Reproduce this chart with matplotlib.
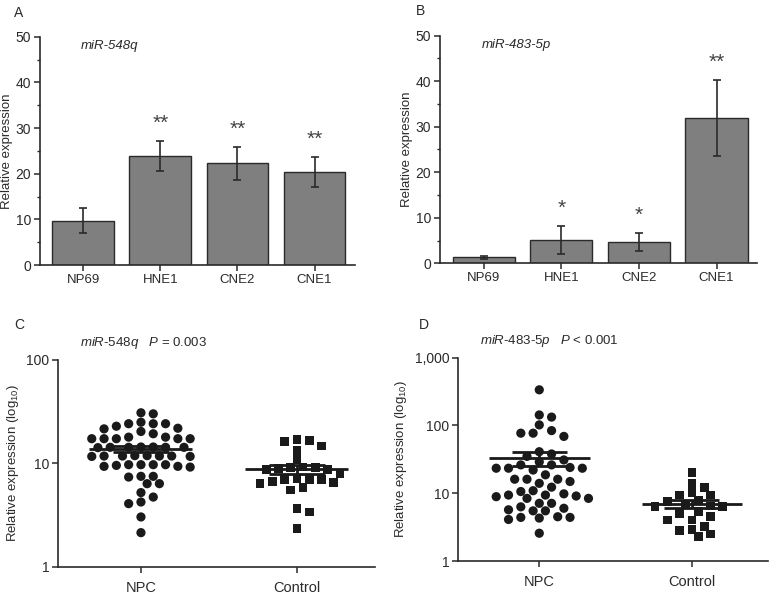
import matplotlib
matplotlib.use('Agg')
import matplotlib.pyplot as plt
import numpy as np

plt.rcParams['font.family'] = 'Liberation Sans'
plt.rcParams['mathtext.fontset'] = 'custom'
plt.rcParams['mathtext.rm'] = 'Liberation Sans'
plt.rcParams['mathtext.it'] = 'Liberation Sans:italic'
plt.rcParams['mathtext.default'] = 'regular'

INK = '#2a2a2a'

# panel A / B: cell lines
cell_lines = ['NP69', 'HNE1', 'CNE2', 'CNE1']
a_mean = [9.7, 23.9, 22.3, 20.4]
a_err = [2.7, 3.2, 3.6, 3.35]
a_sig = ['', '**', '**', '**']
b_mean = [1.3, 5.1, 4.6, 31.9]
b_err = [0.3, 3.1, 2.0, 8.4]
b_sig = ['', '*', '*', '**']

# panel C / D: tissue samples
groups = ['NPC', 'Control']
c_npc = [30.6, 29.9,
         24.8, 24.0, 24.0, 24.0,
         22.7, 21.7, 21.4, 20.2, 19.2,
         17.8, 17.8, 17.2, 17.2, 17.2, 17.2, 17.2,
         14.3, 14.2, 14.2, 14.1, 14.2, 14.2, 14.3,
         11.8, 11.7, 11.7, 11.6, 11.7, 11.7, 11.8, 11.6,
         9.65, 9.65, 9.65, 9.65, 9.5, 9.3, 9.3, 9.15,
         7.45, 7.45, 7.33, 6.33, 6.33,
         5.19, 4.7, 4.21, 4.06, 3.02, 2.13]
c_ctrl = [16.9, 16.5, 16.2, 14.6, 13.3, 10.8,
          9.15, 9.0, 8.8, 8.7, 8.7, 9.1, 7.9,
          7.1, 6.9, 6.7, 6.5, 6.3, 7.0, 6.9,
          5.8, 5.5, 3.64, 3.37, 2.33]
d_npc = [336, 143, 133, 102, 84, 77, 77, 69,
         41, 38, 35, 31,
         29, 26.2, 26.2, 24, 23.4, 23.4, 23.4, 22,
         18.7, 16.1, 16.1, 16.1, 14.9, 14.0, 12.3,
         10.9, 10.6, 9.8, 9.4, 9.4, 9.1, 8.9, 8.4, 8.4,
         7.1, 7.1, 6.3, 6.0, 5.7, 5.5, 5.5,
         4.5, 4.4, 4.4, 4.3, 4.1, 2.57]
d_ctrl = [20.2, 14.1, 12.3, 10.2, 9.4, 9.4, 7.97, 7.5, 6.7, 6.5, 6.3, 6.3,
          5.36, 5.06, 4.5, 4.04, 4.04, 3.22, 2.94, 2.8, 2.5, 2.29]


def style_axes(ax):
    for side in ['top', 'right']:
        ax.spines[side].set_visible(False)
    for side in ['left', 'bottom']:
        ax.spines[side].set_linewidth(1.2)
        ax.spines[side].set_color(INK)
    ax.tick_params(colors=INK, labelcolor=INK, labelsize=10, width=1.1, length=4, pad=2.5)


def bar_panel(ax, means, errs, sigs, title):
    x = np.arange(len(cell_lines))
    ax.bar(x, means, width=0.8, color='#7f7f7f', edgecolor=INK, linewidth=1.0, zorder=2)
    ax.errorbar(x, means, yerr=errs, fmt='none', ecolor=INK, elinewidth=1.2,
                capsize=3, capthick=1.2, zorder=3)
    for xi, m, e, s in zip(x, means, errs, sigs):
        if s:
            ax.text(xi, m + e + 1.8, s, ha='center', va='bottom', fontsize=15, color='#444444')
    ax.set_xlim(-0.56, 3.52)
    ax.set_ylim(0, 50)
    ax.set_yticks(np.arange(0, 51, 10))
    ax.set_yticks(np.arange(5, 50, 10), minor=True)
    ax.set_xticks(x)
    ax.set_xticklabels(cell_lines)
    style_axes(ax)
    ax.set_ylabel('Relative expression', fontsize=9.5, color=INK, labelpad=2)
    ax.tick_params(axis='x', labelsize=9.5)
    ax.tick_params(axis='y', which='minor', length=2, width=1, colors=INK)
    ax.text(0.13, 0.96, title, transform=ax.transAxes, style='italic', fontsize=9.5,
            color=INK, va='center')


def swarm_x(ax, xc, vals, step=6.15, d=9.2):
    # grid-based swarm in pixel space (half-column steps, like a scatter dot plot)
    vals = np.asarray(vals, float)
    pts = ax.transData.transform(np.column_stack([np.full(len(vals), xc), vals]))
    x0 = pts[0, 0]
    ypix = pts[:, 1]
    steps = [0.0]
    for k in range(1, 40):
        steps += [k * step, -k * step]
    px, py = [], []
    offs = np.zeros(len(vals))
    for i in np.argsort(-vals, kind='stable'):
        y = ypix[i]
        for s in steps:
            if all((s - a) ** 2 + (y - b) ** 2 >= d * d for a, b in zip(px, py)):
                break
        px.append(s)
        py.append(y)
        offs[i] = s
    back = ax.transData.inverted().transform(np.column_stack([x0 + offs, ypix]))
    return back[:, 0]


def dot_panel(ax, npc, ctrl, ymax, ticklabels, title):
    ax.set_yscale('log')
    ax.set_ylim(1, ymax)
    ax.set_xlim(-0.53, 1.5)
    ticks = [10 ** k for k in range(len(ticklabels))]
    ax.set_yticks(ticks)
    ax.set_yticklabels(ticklabels)
    ax.yaxis.set_minor_locator(matplotlib.ticker.NullLocator())
    ax.set_xticks([0, 1])
    ax.set_xticklabels(groups)
    style_axes(ax)
    ax.tick_params(axis='x', labelsize=10.5, pad=6)
    ax.set_ylabel('Relative expression (log$_{10}$)', fontsize=9.5, color=INK, labelpad=4)
    for xc, vals, mk, sz in [(0, npc, 'o', 44), (1, ctrl, 's', 40)]:
        xs = swarm_x(ax, xc, vals)
        ax.scatter(xs, vals, s=sz, marker=mk, color='#1a1a1a', edgecolors='none',
                   zorder=3, clip_on=False)
        v = np.asarray(vals, float)
        m = v.mean()
        sem = v.std(ddof=1) / np.sqrt(len(v))
        ax.hlines(m, xc - 0.33, xc + 0.33, color='#1a1a1a', lw=2, zorder=4)
        ax.hlines([m - sem, m + sem], xc - 0.18, xc + 0.18, color='#1a1a1a', lw=2, zorder=4)
        ax.vlines(xc, m - sem, m + sem, color='#1a1a1a', lw=2, zorder=4)
    ax.text(0.07, 1.08, title, transform=ax.transAxes, fontsize=9.5, color=INK, va='center')


fig = plt.figure(figsize=(7.75, 5.97), dpi=100)
ax_a = fig.add_axes([0.0516, 0.556, 0.406, 0.3824])
ax_b = fig.add_axes([0.568, 0.559, 0.4086, 0.3813])
ax_c = fig.add_axes([0.0752, 0.0508, 0.4086, 0.347])
ax_d = fig.add_axes([0.5914, 0.0603, 0.40, 0.3405])

bar_panel(ax_a, a_mean, a_err, a_sig, 'miR-548q')
bar_panel(ax_b, b_mean, b_err, b_sig, 'miR-483-5p')
dot_panel(ax_c, c_npc, c_ctrl, 100, ['1', '10', '100'],
          r'$\mathit{miR}$-$\mathit{548q}$   $\mathit{P}$ = 0.003')
dot_panel(ax_d, d_npc, d_ctrl, 1000, ['1', '10', '100', '1,000'],
          r'$\mathit{miR}$-$\mathit{483}$-$\mathit{5p}$   $\mathit{P}$ < 0.001')

for lbl, x, y in [('A', 0.018, 0.978), ('B', 0.537, 0.982), ('C', 0.018, 0.455), ('D', 0.540, 0.455)]:
    fig.text(x, y, lbl, fontsize=10, color=INK, va='center')

fig.savefig('out.png', dpi=100)
